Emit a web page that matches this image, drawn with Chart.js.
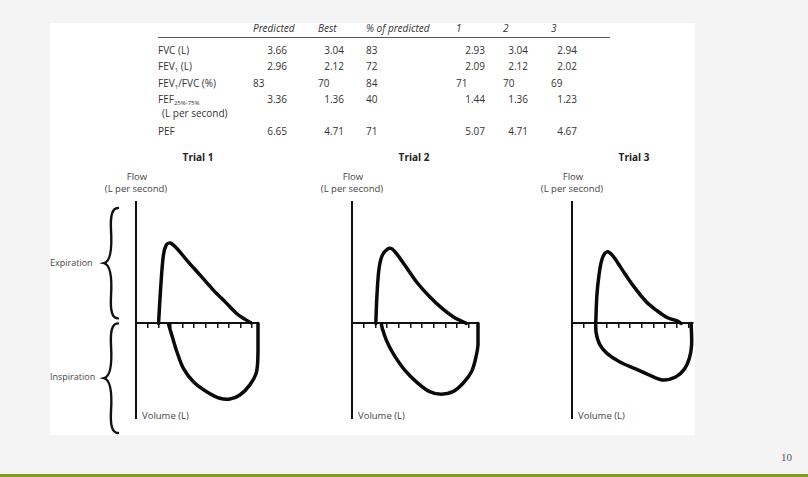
<!DOCTYPE html>
<html>
<head>
<meta charset="utf-8">
<script src="https://cdn.jsdelivr.net/npm/chart.js@4.4.1/dist/chart.umd.min.js"></script>
<style>
  html, body { margin: 0; padding: 0; }
  body { width: 808px; height: 477px; background: #f4f4f4; position: relative; overflow: hidden;
         font-family: "Open Sans", sans-serif; color: #333; }
  #panel { position: absolute; left: 50px; top: 23px; width: 645px; height: 412px; background: #fff; }
  .t { position: absolute; font-size: 10px; line-height: 12px; white-space: nowrap; }
  .hd { font-style: italic; }
  .c { transform: translateX(-50%); }
  .small { font-size: 9.5px; color: #444; }
  .side { font-size: 9px; color: #444; }
  .bold { font-weight: bold; color: #222; }
  sub { font-size: 6px; vertical-align: -2px; line-height: 0; }
  canvas { position: absolute; }
  #rule { position: absolute; left: 158px; top: 37px; width: 452px; height: 1px; background: #555; }
  #green { position: absolute; left: 0; top: 474px; width: 808px; height: 3px; background: #7d9a2c; }
  #page { position: absolute; left: 781px; top: 451px; font-family: "Liberation Serif", serif; font-size: 11px; color: #555; }
</style>
</head>
<body>
<div id="panel"></div>
<div id="rule"></div>
<div id="green"></div>
<div id="page">10</div>
<div id="labels"></div>
<canvas id="trial1"></canvas>
<canvas id="trial2"></canvas>
<canvas id="trial3"></canvas>
<script>
// spirometry table
const headers = ['Predicted', 'Best', '% of predicted', '1', '2', '3'];
const rowLabels = ['FVC (L)', 'FEV<sub>1</sub> (L)', 'FEV<sub>1</sub>/FVC (%)', 'FEF<sub>25%-75%</sub>', 'PEF'];
const predicted = ['3.66', '2.96', '83', '3.36', '6.65'];
const best = ['3.04', '2.12', '70', '1.36', '4.71'];
const pctPredicted = ['83', '72', '84', '40', '71'];
const trial1Values = ['2.93', '2.09', '71', '1.44', '5.07'];
const trial2Values = ['3.04', '2.12', '70', '1.36', '4.71'];
const trial3Values = ['2.94', '2.02', '69', '1.23', '4.67'];

// flow-volume loops: [volume (L), flow (L/s)]
const trialTitles = ['Trial 1', 'Trial 2', 'Trial 3'];
const volumeTicks = [0.5, 1, 1.5, 2, 2.5, 3, 3.5, 4, 4.5, 5];
const volumeMax = [5.25, 5.4, 5.2];
const flowMin = -6;
const flowMax = 7.7;

const trial1Expiration = [[0.97, 0], [1.07, 2.43], [1.18, 4.33], [1.3, 4.96], [1.47, 5.1], [1.76, 4.75],
  [2.19, 4.0], [2.76, 3.06], [3.33, 2.11], [3.9, 1.27], [4.33, 0.63], [4.68, 0.27], [4.93, 0.05]];
const trial1Inspiration = [[5.25, 0], [5.25, -1.8], [5.19, -3.06], [4.9, -3.9], [4.47, -4.54], [4.04, -4.8],
  [3.61, -4.75], [3.04, -4.33], [2.47, -3.7], [2.04, -2.85], [1.76, -1.8], [1.54, -0.74], [1.4, -0.05]];

const trial2Expiration = [[1.02, 0], [1.07, 1.79], [1.16, 3.49], [1.3, 4.33], [1.52, 4.71], [1.69, 4.75],
  [1.9, 4.44], [2.26, 3.7], [2.76, 2.64], [3.33, 1.69], [3.9, 0.9], [4.4, 0.36], [4.83, 0.06], [4.9, 0]];
const trial2Inspiration = [[5.4, 0], [5.4, -1.37], [5.3, -2.22], [5.12, -3.07], [4.76, -3.8], [4.33, -4.33],
  [3.83, -4.5], [3.33, -4.33], [2.83, -3.8], [2.26, -2.96], [1.76, -1.9], [1.47, -1.06], [1.3, -0.32], [1.26, -0.04]];

const trial3Expiration = [[1.02, 0], [1.07, 1.79], [1.16, 3.06], [1.3, 4.12], [1.5, 4.54], [1.73, 4.33],
  [2.12, 3.49], [2.61, 2.43], [3.19, 1.37], [3.62, 0.84], [4.11, 0.36], [4.54, 0.15], [4.69, 0]];
const trial3Inspiration = [[5.12, 0], [5.14, -1.37], [5.04, -2.22], [4.83, -2.9], [4.47, -3.38], [3.9, -3.59],
  [3.33, -3.28], [2.76, -2.9], [2.04, -2.43], [1.5, -1.9], [1.19, -1.33], [1.04, -0.63], [1.02, -0.1]];

// ---- table layout ----
const labels = document.getElementById('labels');
function addText(html, left, top, cls, width, align) {
    const d = document.createElement('div');
    d.className = 't ' + (cls || '');
    d.innerHTML = html;
    d.style.left = left + 'px';
    d.style.top = top + 'px';
    if (width) { d.style.width = width + 'px'; d.style.textAlign = align; }
    labels.appendChild(d);
    return d;
}

const colLeft = [253, 318, 366, 456, 503, 551];
const colRight = [287, 344, 400, 485, 528, 577];
const rowY = [44, 60, 77, 93, 125];
const columns = [predicted, best, pctPredicted, trial1Values, trial2Values, trial3Values];

headers.forEach((h, i) => addText(h, colLeft[i], 22, 'hd'));
rowLabels.forEach((r, j) => addText(r, 158, rowY[j]));
addText('(L per second)', 162, 107);
columns.forEach((col, i) => {
    col.forEach((v, j) => {
        // decimals sit right-aligned, whole numbers left-aligned
        const align = v.indexOf('.') >= 0 ? 'right' : 'left';
        addText(v, colLeft[i], rowY[j], '', colRight[i] - colLeft[i], align);
    });
});

// ---- loops ----
const axisX = [136, 352, 572];
const pxPerLitre = 23.33;

addText('Expiration', 50, 257, 'side');
addText('Inspiration', 50, 371, 'side');

function drawBrace(ctx, x, top, bottom, w) {
    const h = bottom - top;
    const mid = (top + bottom) / 2;
    ctx.beginPath();
    ctx.moveTo(x + w, top);
    ctx.bezierCurveTo(x + w * 0.55, top, x + w * 0.45, top + h * 0.08, x + w * 0.5, top + h * 0.2);
    ctx.bezierCurveTo(x + w * 0.55, mid - h * 0.2, x + w * 0.6, mid - h * 0.02, x, mid);
    ctx.bezierCurveTo(x + w * 0.6, mid + h * 0.02, x + w * 0.55, mid + h * 0.2, x + w * 0.5, bottom - h * 0.2);
    ctx.bezierCurveTo(x + w * 0.45, bottom - h * 0.08, x + w * 0.55, bottom, x + w, bottom);
    ctx.stroke();
}

const bracePlugin = {
    id: 'braces',
    afterDraw(chart) {
        const ctx = chart.ctx;
        const area = chart.chartArea;
        const zero = chart.scales.y.getPixelForValue(0);
        ctx.save();
        ctx.strokeStyle = '#111';
        ctx.lineWidth = 2.4;
        ctx.lineCap = 'round';
        drawBrace(ctx, area.left - 32, area.top + 6, zero - 5, 14);
        drawBrace(ctx, area.left - 32, zero, area.bottom + 15, 14);
        ctx.restore();
    }
};

function loopLine(points) {
    return {
        data: points.map(p => ({ x: p[0], y: p[1] })),
        showLine: true,
        borderColor: '#0a0a0a',
        borderWidth: 3.5,
        pointRadius: 0,
        tension: 0.35,
        borderCapStyle: 'round',
        borderJoinStyle: 'round',
        fill: false,
        clip: false
    };
}

function makeTrial(i, expiration, inspiration, padLeft, plugins) {
    const canvas = document.getElementById('trial' + (i + 1));
    const chartW = Math.round(volumeMax[i] * pxPerLitre);
    canvas.width = padLeft + chartW + 8;
    canvas.height = 244;
    canvas.style.left = (axisX[i] - padLeft) + 'px';
    canvas.style.top = '196px';

    addText(trialTitles[i], axisX[i] + 62, 151, 'bold c');
    addText('Flow', axisX[i] + 1, 171, 'small c');
    addText('(L per second)', axisX[i], 183, 'small c');
    addText('Volume (L)', axisX[i] + 6, 410, 'small');

    return new Chart(canvas, {
        type: 'scatter',
        data: { datasets: [loopLine(expiration), loopLine(inspiration)] },
        options: {
            responsive: false,
            animation: false,
            layout: { padding: { left: padLeft, right: 8, top: 6, bottom: 22 } },
            plugins: { legend: { display: false }, tooltip: { enabled: false } },
            scales: {
                x: {
                    type: 'linear', min: 0, max: volumeMax[i],
                    position: { y: 0 },
                    afterBuildTicks: axis => { axis.ticks = volumeTicks.map(v => ({ value: v })); },
                    ticks: { display: false },
                    grid: { drawOnChartArea: false, drawTicks: true, tickLength: 4, color: '#111', lineWidth: 1.5 },
                    border: { display: true, color: '#111', width: 2 }
                },
                y: {
                    type: 'linear', min: flowMin, max: flowMax,
                    position: { x: 0 },
                    ticks: { display: false },
                    grid: { drawOnChartArea: false, drawTicks: false },
                    border: { display: true, color: '#111', width: 2 }
                }
            }
        },
        plugins: plugins || []
    });
}

makeTrial(0, trial1Expiration, trial1Inspiration, 92, [bracePlugin]);
makeTrial(1, trial2Expiration, trial2Inspiration, 8);
makeTrial(2, trial3Expiration, trial3Inspiration, 8);
</script>
</body>
</html>
